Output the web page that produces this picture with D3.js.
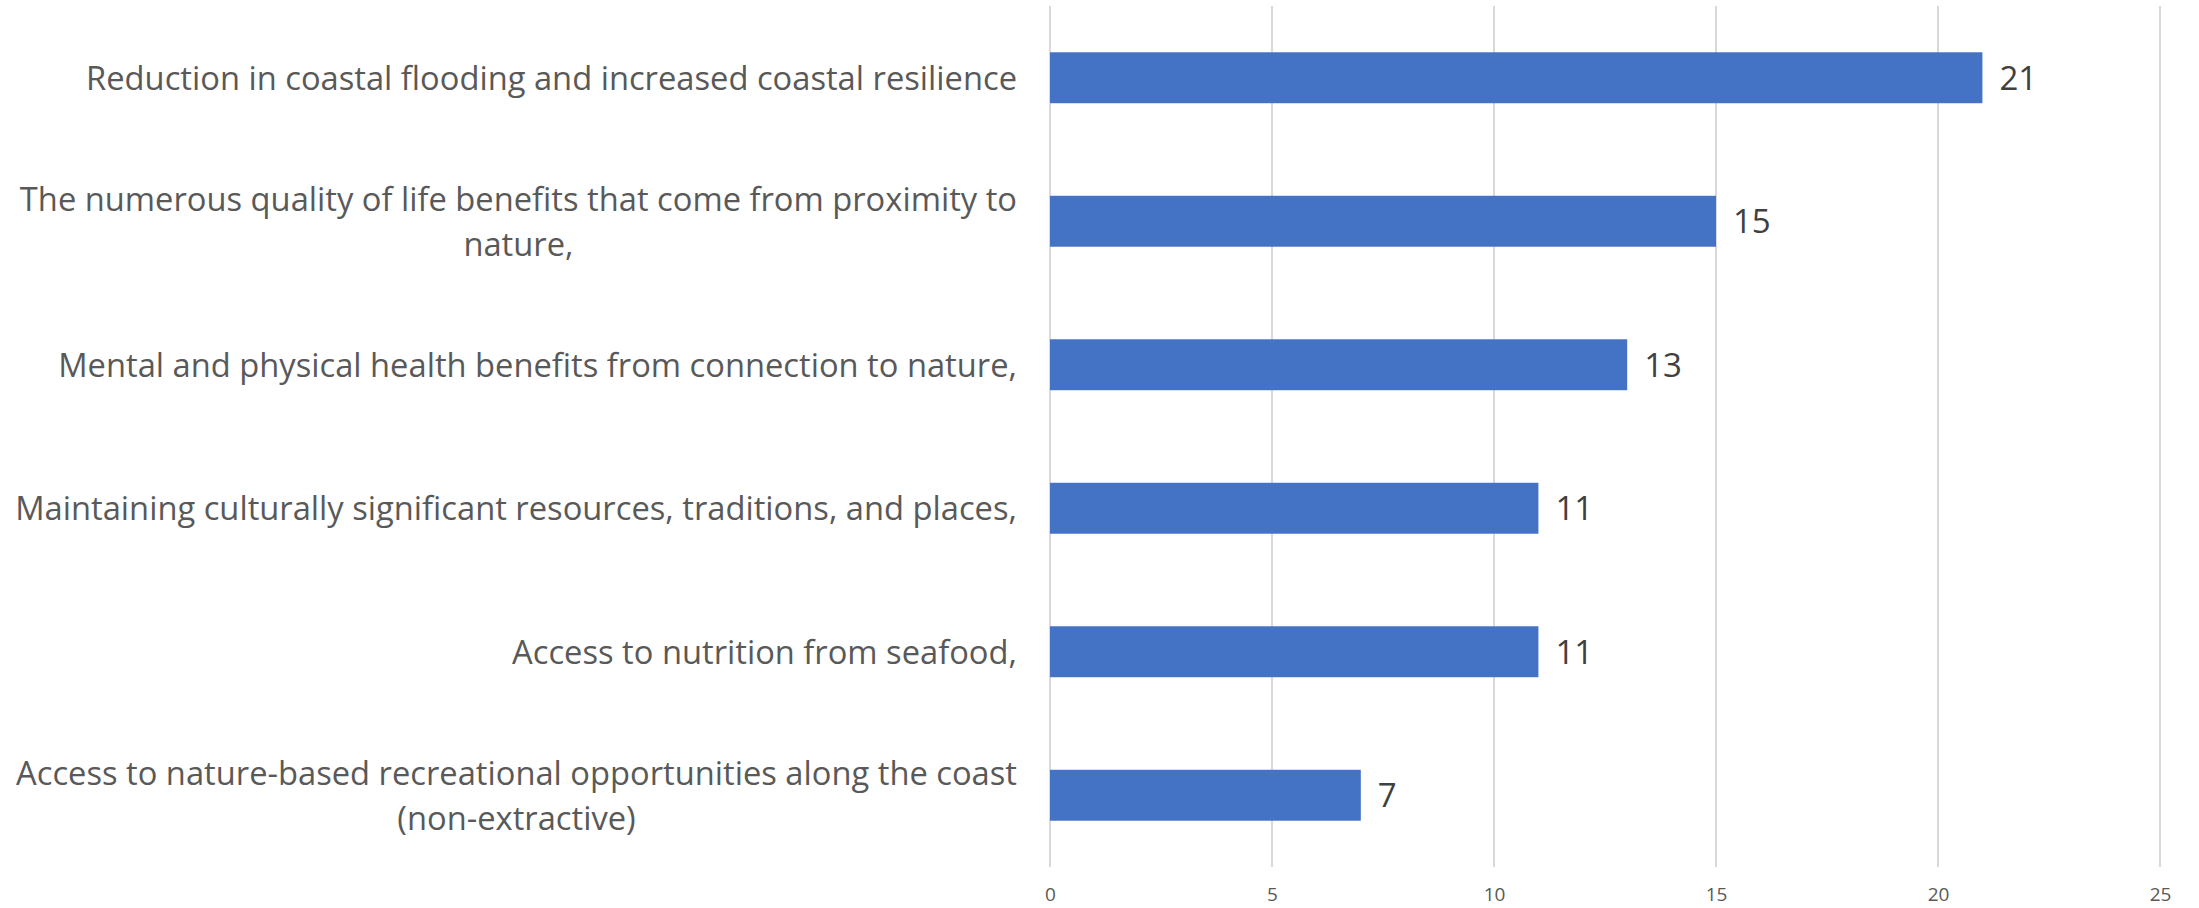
<!DOCTYPE html>
<html>
<head>
<meta charset="utf-8">
<script src="https://cdn.jsdelivr.net/npm/d3@7"></script>
<style>
  html, body { margin: 0; padding: 0; background: #fff; }
  svg { display: block; }
  text { font-family: "Open Sans", "Noto Sans", sans-serif; }
</style>
</head>
<body>
<svg id="chart" width="2199" height="908"></svg>
<script>
// Benefits, top to bottom; "\n" marks where a long label wraps
const categories = [
  "Reduction in coastal flooding and increased coastal resilience",
  "The numerous quality of life benefits that come from proximity to\nnature,",
  "Mental and physical health benefits from connection to nature,",
  "Maintaining culturally significant resources, traditions, and places,",
  "Access to nutrition from seafood,",
  "Access to nature-based recreational opportunities along the coast\n(non-extractive)"
];
const values = [21, 15, 13, 11, 11, 7];
const tickValues = [0, 5, 10, 15, 20, 25];

const svg = d3.select("#chart");
const plot = { left: 1050, right: 2160, top: 6, bottom: 867 };

const x = d3.scaleLinear().domain([0, 25]).range([plot.left, plot.right]);
const y = d3.scaleBand()
  .domain(categories)
  .range([plot.top, plot.bottom])
  .paddingInner(0.645)
  .paddingOuter(0.3225);

// vertical gridlines
svg.append("g")
  .selectAll("line")
  .data(tickValues)
  .join("line")
  .attr("x1", d => x(d)).attr("x2", d => x(d))
  .attr("y1", plot.top).attr("y2", plot.bottom)
  .attr("stroke", "#d9d9d9")
  .attr("stroke-width", 2);

// x axis tick labels
const xAxis = d3.axisBottom(x).tickValues(tickValues).tickSize(0).tickPadding(0);
const gx = svg.append("g")
  .attr("transform", `translate(0,${plot.bottom + 20})`)
  .call(xAxis);
gx.select(".domain").remove();
gx.selectAll("text")
  .attr("font-size", 19)
  .attr("fill", "#595959")
  .attr("font-family", "Open Sans, sans-serif");

// bars
svg.append("g")
  .selectAll("rect")
  .data(values)
  .join("rect")
  .attr("x", x(0))
  .attr("y", (d, i) => y(categories[i]))
  .attr("width", d => x(d) - x(0))
  .attr("height", y.bandwidth())
  .attr("fill", "#4472C4");

// value labels
svg.append("g")
  .selectAll("text")
  .data(values)
  .join("text")
  .attr("x", d => x(d) + 17)
  .attr("y", (d, i) => y(categories[i]) + y.bandwidth() / 2)
  .attr("dy", "0.36em")
  .attr("font-size", 33)
  .attr("fill", "#404040")
  .text(d => d);

// category labels: block right-aligned at the axis, wrapped lines centred within the block
const labelRight = plot.left - 33;
const lineHeight = 45;
const fontSize = 32.7;
const catG = svg.append("g");
categories.forEach((cat, i) => {
  const lines = cat.split("\n");
  const g = catG.append("g");
  const texts = lines.map(l => g.append("text")
    .attr("font-size", fontSize)
    .attr("fill", "#595959")
    .attr("text-anchor", "middle")
    .text(l));
  const widths = texts.map(t => t.node().getComputedTextLength());
  const blockW = Math.max(...widths);
  const cx = labelRight - blockW / 2;
  const cy = y(cat) + y.bandwidth() / 2;
  const firstY = cy - (lines.length - 1) * lineHeight / 2;
  texts.forEach((t, k) => {
    t.attr("x", cx)
     .attr("y", firstY + k * lineHeight)
     .attr("dy", "0.36em");
  });
});
</script>
</body>
</html>
